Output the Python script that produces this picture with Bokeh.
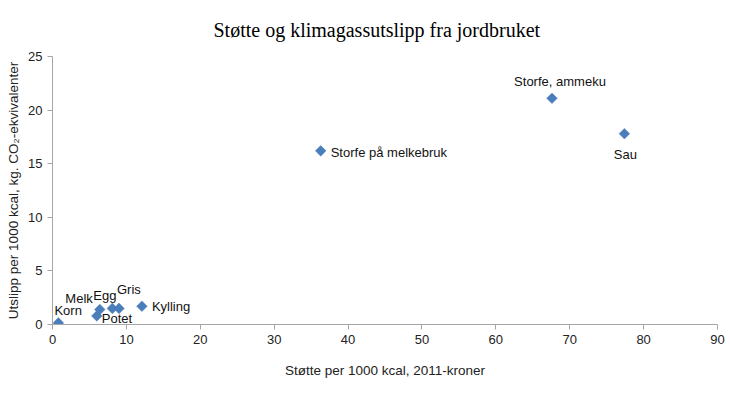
import math
from bokeh.plotting import figure
from bokeh.models import ColumnDataSource, Range1d, FixedTicker, LabelSet, Title
from bokeh.core.properties import value
from bokeh.embed import file_html
from bokeh.resources import INLINE

# Data
title_text = "Støtte og klimagassutslipp fra jordbruket"
names = ["Korn", "Potet", "Melk", "Egg", "Gris", "Kylling",
         "Storfe på melkebruk", "Storfe, ammeku", "Sau"]
stotte = [0.8, 6.0, 6.4, 8.1, 9.0, 12.1, 36.3, 67.6, 77.4]
utslipp = [0.15, 0.8, 1.4, 1.5, 1.5, 1.7, 16.2, 21.1, 17.8]
x_ticks = [0, 10, 20, 30, 40, 50, 60, 70, 80, 90]
y_ticks = [0, 5, 10, 15, 20, 25]

# label placement (styles)
x_off = [-4, 5, -7, -19, -2, 10, 10, 8, 1]
y_off = [5, 5, 3, 5, 11, 0, -2, 9, -13]
aligns = ["left", "left", "right", "left", "left", "left", "left", "center", "center"]
baselines = ["bottom", "top", "bottom", "bottom", "bottom", "middle", "middle", "bottom", "top"]

src = ColumnDataSource(dict(x=stotte, y=utslipp, name=names, xo=x_off, yo=y_off,
                            al=aligns, bl=baselines))

p = figure(frame_width=665, frame_height=268, output_backend="svg", toolbar_location=None,
           x_range=Range1d(0, 90), y_range=Range1d(0, 25),
           min_border_left=52, min_border_right=13, min_border_top=56, min_border_bottom=53)
p.title = Title(text=title_text, align="left", offset=161, standoff=32,
                text_font="Liberation Serif", text_font_size="20px", text_font_style="normal",
                text_line_height=1.0, text_color="#000000")
p.outline_line_color = None
p.xgrid.visible = False
p.ygrid.visible = False
p.background_fill_color = "white"
p.border_fill_color = "white"

for ax in (p.xaxis[0], p.yaxis[0]):
    ax.axis_line_color = "#a6a6a6"
    ax.major_tick_line_color = "#a6a6a6"
    ax.minor_tick_line_color = None
    ax.major_tick_in = 0
    ax.major_tick_out = 5
    ax.major_label_text_font = "Liberation Sans"
    ax.major_label_text_font_size = "13px"
    ax.major_label_text_color = "#222222"
    ax.axis_label_text_font = "Liberation Sans"
    ax.axis_label_text_font_size = "13.5px"
    ax.axis_label_text_font_style = "normal"
    ax.axis_label_text_color = "#222222"

p.xaxis.ticker = FixedTicker(ticks=x_ticks)
p.yaxis.ticker = FixedTicker(ticks=y_ticks)
p.xaxis.axis_label = "Støtte per 1000 kcal, 2011-kroner"
p.yaxis.axis_label = "Utslipp per 1000 kcal, kg. CO₂-ekvivalenter"
p.xaxis.axis_label_standoff = 16
p.yaxis.axis_label_standoff = 4

p.scatter("x", "y", source=src, marker="square", angle=math.pi / 4, size=7.5,
          fill_color="#4a7ebb", line_color="#4a7ebb", line_width=0.5)

labels = LabelSet(x="x", y="y", text="name", x_offset="xo", y_offset="yo",
                  text_align="al", text_baseline="bl", source=src,
                  text_font=value("Liberation Sans"), text_font_size=value("13px"),
                  text_color="#111111")
p.add_layout(labels)

open("out.html", "w").write(file_html(p, INLINE))
